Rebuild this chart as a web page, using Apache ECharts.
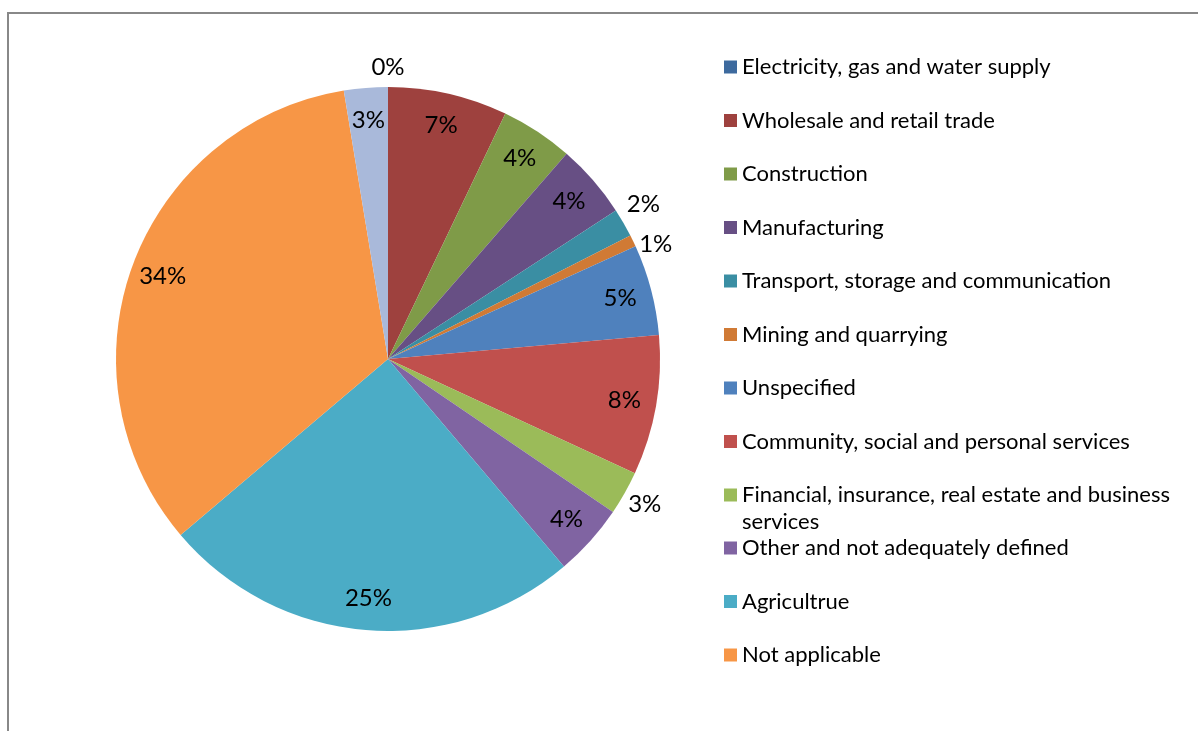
<!DOCTYPE html>
<html lang="en">
<head>
    <meta charset="utf-8">
    <title>Employment by industry</title>
    <script src="https://cdn.jsdelivr.net/npm/echarts@6/dist/echarts.min.js"></script>
</head>
<body style="margin:0; background:#fff;">
<div id="main" style="width:1198px; height:731px;"></div>

<script type="text/javascript">
    // slices, clockwise from 12 o'clock
    const industries = [
        'Electricity, gas and water supply',
        'Wholesale and retail trade',
        'Construction',
        'Manufacturing',
        'Transport, storage and communication',
        'Mining and quarrying',
        'Unspecified',
        'Community, social and personal services',
        'Financial, insurance, real estate and business services',
        'Other and not adequately defined',
        'Agricultrue',
        'Not applicable',
        'Unknown'
    ];
    const shares = [0, 7.1, 4.3, 4.4, 1.7, 0.7, 5.4, 8.3, 2.6, 4.3, 25.0, 33.6, 2.6];
    const colors = ['#3d6a9e', '#9e413e', '#7f9b48', '#674f84', '#3a8ea3', '#d07a35',
        '#4f81bd', '#c0504d', '#9bbb59', '#8064a2', '#4bacc6', '#f79646', '#a9b9da'];

    // legend shows only the first 12 slices; the wrapped entry sits in its own legend
    const legendTop = industries.slice(0, 8);
    const legendWrapped = industries.slice(8, 9);
    const legendBottom = industries.slice(9, 12);

    // small slices get their label just outside the pie
    const outside = [0, 4, 5, 8];
    // the two crowded outside labels are pushed apart a little, like Excel does
    const nudge = {0: [0, 3], 4: [0, -7], 5: [2, 13]};

    const font = 'Lato, "Open Sans", sans-serif';
    const myChart = echarts.init(document.getElementById('main'));

    const pieData = industries.map(function (n, i) {
        return {name: n, value: shares[i], itemStyle: {color: colors[i]}};
    });
    function labelData(showOutside) {
        return industries.map(function (n, i) {
            const isOut = outside.indexOf(i) >= 0;
            return {name: n, value: shares[i], label: {show: isOut === showOutside}};
        });
    }
    const labelStyle = {
        position: 'inside',
        formatter: function (p) { return Math.round(p.percent) + '%'; },
        fontFamily: font,
        fontSize: 24,
        color: '#000'
    };
    function overlay(radius, showOutside) {
        return {
            type: 'pie',
            center: [388, 359],
            radius: radius,
            startAngle: 90,
            silent: true,
            animation: false,
            avoidLabelOverlap: false,
            itemStyle: {color: 'rgba(0,0,0,0)'},
            label: labelStyle,
            labelLine: {show: false},
            labelLayout: function (p) {
                const n = showOutside && nudge[p.dataIndex];
                return n ? {dx: n[0], dy: n[1], hideOverlap: false} : {hideOverlap: false};
            },
            data: labelData(showOutside)
        };
    }

    const legendText = {fontFamily: font, fontSize: 22, lineHeight: 27, color: '#000'};
    function legend(top, names) {
        return {
            orient: 'vertical',
            left: 724,
            top: top,
            padding: 0,
            icon: 'rect',
            itemWidth: 13,
            itemHeight: 13,
            itemGap: 26.5,
            textStyle: legendText,
            formatter: function (name) {
                if (name.indexOf('Financial') === 0) {
                    return '\nFinancial, insurance, real estate and business\nservices';
                }
                return name;
            },
            data: names
        };
    }

    const option = {
        animation: false,
        graphic: [{
            type: 'rect',
            shape: {x: 8, y: 13, width: 1300, height: 900},
            style: {fill: 'none', stroke: '#888', lineWidth: 2},
            silent: true
        }],
        legend: [
            legend(53.5, legendTop),
            legend(454.5, legendWrapped),
            legend(534.5, legendBottom)
        ],
        series: [{
            type: 'pie',
            center: [388, 359],
            radius: 272,
            startAngle: 90,
            label: {show: false},
            labelLine: {show: false},
            emphasis: {disabled: true},
            data: pieData
        },
            overlay([202, 272], false),
            overlay([272, 312], true)
        ]
    };
    myChart.setOption(option);
</script>
</body>
</html>
